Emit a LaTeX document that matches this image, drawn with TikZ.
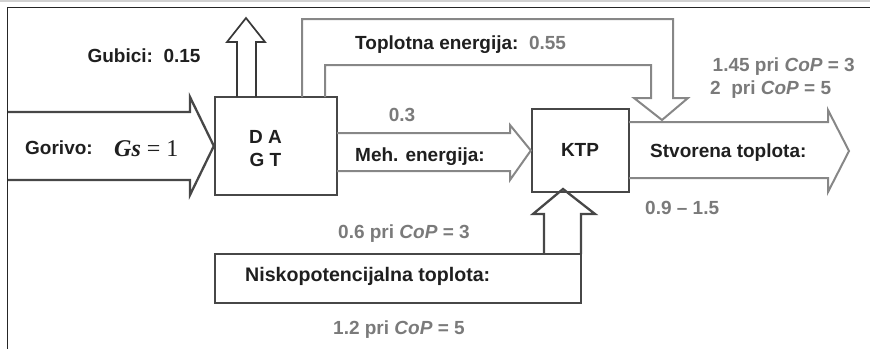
\documentclass[tikz,border=0pt]{standalone}
\usepackage{fontspec}
\setmainfont{Liberation Sans}
\newfontfamily\mathserif{Liberation Serif}
\begin{document}
\begin{tikzpicture}[x=1pt,y=-1pt,
  darkline/.style={draw=black!72, line width=2.3pt, line join=miter},
  thinline/.style={draw=black!78, line width=1.7pt, line join=miter},
  grayline/.style={draw=black!47, line width=2pt, line join=miter},
  blockbox/.style={darkline, fill=white, inner sep=0pt},
  lbl/.style={font=\fontsize{19}{23}\selectfont\bfseries, text=black!88,
    inner sep=0pt, text height=13.5pt, text depth=0pt},
  val/.style={lbl, text=black!52},
]
\useasboundingbox (0,0) rectangle (870,349);
% page frame
\fill[black!18] (0,0) rectangle (870,2);
\draw[black!85, line width=1.3pt] (870,7.5) -- (7.5,7.5) -- (7.5,349);

% blocks
\node[blockbox, minimum width=122pt, minimum height=98pt] (dagt) at (276,146) {};
\node[blockbox, minimum width=97pt, minimum height=83pt] (ktp) at (580.5,150.5) {};
\node[blockbox, minimum width=366pt, minimum height=49pt] (nisko) at (398,278.5) {};

% fuel input
\draw[darkline] (8,112) -- (190,112) -- (190,97) -- (dagt.west) -- (190,195) -- (190,180) -- (8,180);
% losses
\draw[thinline] (237,97) -- (237,42) -- (227,42) -- (246,18) -- (265,42) -- (256,42) -- (256,97);
% heat from the engine to the output
\draw[grayline] (302,97) -- (302,19) -- (673,19) -- (673,98) -- (688,98) -- (662,120)
  -- (634,98) -- (651,98) -- (651,65) -- (325,65) -- (325,97);
% mechanical energy to the heat pump
\draw[grayline] (337,133) -- (510,133) -- (510,125) -- (ktp.west) -- (510,180) -- (510,171) -- (337,171);
% produced heat
\draw[grayline] (629,122) -- (828,122) -- (828,110) -- (849,151) -- (828,192) -- (828,178) -- (629,178);
% low-grade heat into the heat pump
\draw[darkline] (544,254) -- (544,214) -- (533,214) -- (563,189) -- (595,214) -- (581,214) -- (581,254);

% texts
\node[lbl] (dagttop) at (265.5,137) {D A};
\node[lbl] (dagtbottom) at (265.5,160) {G T};
\node[lbl] (ktplabel) at (580,150) {KTP};
\node[lbl, anchor=west] (gorivo) at (25,148) {Gorivo:};
\node[anchor=west, inner sep=0pt, font=\mathserif\fontsize{24}{24}\selectfont, text=black!88,
  text height=16pt, text depth=0pt] (gs) at (114,148) {\textbf{\textit{Gs}} = 1};
\node[lbl] (gubici) at (144,56) {Gubici:\ \ 0.15};
\node[lbl, anchor=west] (toplotna) at (355,43) {Toplotna energija:\ \ \textcolor{black!52}{0.55}};
\node[val] (mehval) at (402,115) {0.3};
\node[lbl, anchor=west] (meh) at (355,155) {Meh. energija:};
\node[lbl, anchor=west] (stvorena) at (650,151) {Stvorena toplota:};
\node[val, anchor=east] (cop3) at (855,65) {1.45 pri \textit{CoP} = 3};
\node[val, anchor=west] (cop5) at (710,88) {2\ \ pri \textit{CoP} = 5};
\node[val, anchor=west] (range) at (645,208) {0.9 -- 1.5};
\node[val, anchor=west] (nisko3) at (338,232) {0.6 pri \textit{CoP} = 3};
\node[lbl, anchor=west, font=\fontsize{19.6}{23}\selectfont\bfseries] (niskolabel) at (245,275) {Niskopotencijalna toplota:};
\node[val, anchor=west] (nisko5) at (333,328) {1.2 pri \textit{CoP} = 5};
\end{tikzpicture}
\end{document}
